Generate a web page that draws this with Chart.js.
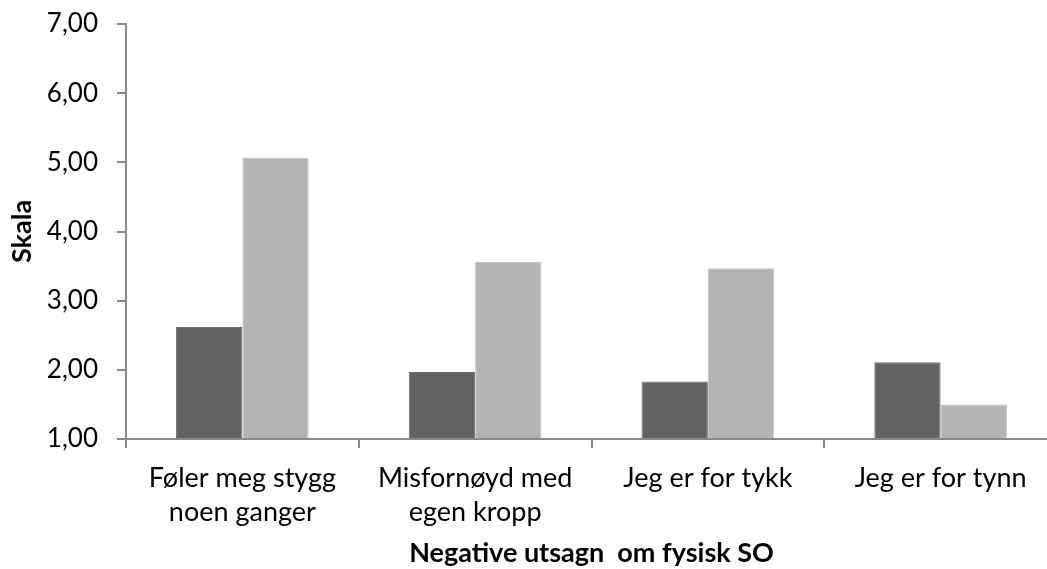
<!DOCTYPE html>
<html>
<head>
<meta charset="utf-8">
<script src="https://cdn.jsdelivr.net/npm/chart.js"></script>
<style>
  html, body { margin: 0; padding: 0; overflow: hidden; background: #fff; }
  #wrap { width: 1057px; height: 569px; position: relative; }
</style>
</head>
<body>
<div id="wrap"><canvas id="chart"></canvas></div>
<script>
// categories + two series
const categories = [
  ['Føler meg stygg', 'noen ganger'],
  ['Misfornøyd med', 'egen kropp'],
  'Jeg er for tykk',
  'Jeg er for tynn'
];
const seriesDark = [2.62, 1.97, 1.83, 2.11];
const seriesLight = [5.07, 3.56, 3.47, 1.50];
const yMin = 1;
const yMax = 7;
const yStep = 1;
const xTitle = 'Negative utsagn  om fysisk SO';
const yTitle = 'Skala';

const axisGrey = '#898989';
const fontFamily = "Lato, 'Open Sans', sans-serif";

const ctx = document.getElementById('chart').getContext('2d');
const chart = new Chart(ctx, {
  type: 'bar',
  data: {
    labels: categories,
    datasets: [
      {
        data: seriesDark,
        backgroundColor: '#626262',
        borderColor: '#6c6c6c',
        borderWidth: 1,
        base: yMin
      },
      {
        data: seriesLight,
        backgroundColor: '#b3b3b3',
        borderColor: '#c6c6c6',
        borderWidth: 1,
        base: yMin
      }
    ]
  },
  options: {
    responsive: true,
    maintainAspectRatio: false,
    animation: false,
    layout: { padding: { top: 24, right: 0, bottom: 0, left: 0 } },
    plugins: {
      legend: { display: false },
      tooltip: { enabled: false }
    },
    datasets: {
      bar: { categoryPercentage: 0.57, barPercentage: 1.0 }
    },
    scales: {
      x: {
        grid: {
          drawOnChartArea: false,
          color: axisGrey,
          lineWidth: 2,
          tickLength: 9
        },
        border: { color: axisGrey, width: 2 },
        ticks: {
          color: '#000',
          padding: 13,
          maxRotation: 0,
          autoSkip: false,
          font: { family: fontFamily, size: 27, lineHeight: 1.27 }
        },
        title: {
          display: true,
          text: xTitle,
          color: '#000',
          padding: { top: 0, bottom: 0 },
          font: { family: fontFamily, size: 27, weight: 'bold', lineHeight: 1.2 }
        },
        afterFit: (axis) => { axis.height = 130; }
      },
      y: {
        min: yMin,
        max: yMax,
        grid: {
          drawOnChartArea: false,
          color: axisGrey,
          lineWidth: 2,
          tickLength: 9
        },
        border: { color: axisGrey, width: 2 },
        ticks: {
          stepSize: yStep,
          color: '#000',
          padding: 19,
          font: { family: fontFamily, size: 26 },
          callback: (v) => Number(v).toFixed(2).replace('.', ',')
        },
        title: {
          display: true,
          text: yTitle,
          color: '#000',
          padding: { top: 6, bottom: 0 },
          font: { family: fontFamily, size: 27, weight: 'bold', lineHeight: 1.2 }
        },
        afterFit: (axis) => {
          axis.width = 126;
          axis.paddingTop = 0;
          axis.paddingBottom = 0;
        }
      }
    }
  }
});
</script>
</body>
</html>
